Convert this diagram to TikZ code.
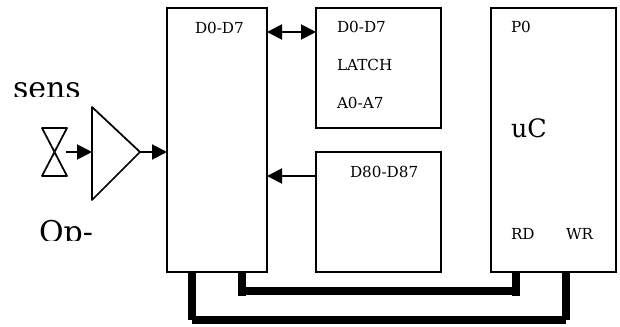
\documentclass[tikz,border=0pt]{standalone}
\usepackage{fontspec}
\setmainfont{DejaVu Serif}
\usetikzlibrary{arrows.meta}
\tikzset{
  x=0.75pt,y=-0.75pt,
  box/.style={draw,line width=1.5pt,minimum width=0pt,inner sep=0pt,outer sep=0pt},
  lab/.style={anchor=base west,inner sep=0pt,outer sep=0pt,font=\fontsize{11.4}{13}\selectfont},
  big/.style={anchor=base west,inner sep=0pt,outer sep=0pt,font=\fontsize{22.5}{24}\selectfont},
  wire/.style={line width=1.5pt},
  head/.style={-{Triangle[length=11.25pt,width=11.25pt]}},
  headboth/.style={{Triangle[length=11.25pt,width=11.25pt]}-{Triangle[length=11.25pt,width=11.25pt]}},
  bus/.style={line width=6pt,line cap=butt},
  shapeline/.style={line width=1.3pt,line join=round},
}
\begin{document}
\begin{tikzpicture}
\useasboundingbox (0,0) rectangle (620,327);
\fill[white] (0,0) rectangle (620,327);
% boxes
\node[box,minimum width=75pt,minimum height=198pt] (mem) at (217,140) {};
\node[box,minimum width=93.75pt,minimum height=90pt] (latch) at (378.5,68) {};
\node[box,minimum width=93.75pt,minimum height=90pt] (dac) at (378.5,212) {};
\node[box,minimum width=93.75pt,minimum height=198pt] (uc) at (553.5,140) {};
% sensor and amplifier
\coordinate (bowout) at (66,152);
\draw[shapeline] (42,128) -- (67,128) -- (42,176) -- (67,176) -- cycle;
\coordinate (ampin) at (92,152);
\coordinate (ampout) at (140,152);
\draw[shapeline] (92,107) -- (ampout) -- (92,200) -- cycle;
\draw[wire,head] (bowout) -- (ampin);
\draw[wire,head] (ampout) -- (mem.west |- ampout);
% data connections
\draw[wire,headboth] (mem.east |- 0,32) -- (latch.west |- 0,32);
\draw[wire,head] (dac.west |- 0,176) -- (mem.east |- 0,176);
% buses
\coordinate (rdA) at (242,272);
\coordinate (rdB) at (516,272);
\coordinate (wrA) at (192,272);
\coordinate (wrB) at (565.5,272);
\draw[bus] (rdA) -- (242,296);
\draw[bus] (rdB) -- (516,296);
\draw[bus] (242,291) -- (516,291);
\draw[bus] (wrA) -- (192,320);
\draw[bus] (wrB) -- (565.5,320);
\draw[bus] (192,320) -- (565.5,320);
% labels
\node[lab] (t1) at (195,34) {D0-D7};
\node[lab] (t2) at (337,33) {D0-D7};
\node[lab] (t3) at (337,71) {LATCH};
\node[lab] (t4) at (337,109) {A0-A7};
\node[lab] (t5) at (350,178) {D80-D87};
\node[lab] (t6) at (511,33) {P0};
\node[lab,font=\fontsize{19}{21}\selectfont] (t7) at (511,138) {uC};
\node[lab] (t8) at (511,240) {RD};
\node[lab] (t9) at (566,240) {WR};
\begin{scope}
\clip (0,60) rectangle (160,97);
\node[big] (t10) at (13,99) {sens};
\end{scope}
\begin{scope}
\clip (0,210) rectangle (160,241);
\node[big] (t11) at (39,243) {Op-};
\end{scope}
\end{tikzpicture}
\end{document}
